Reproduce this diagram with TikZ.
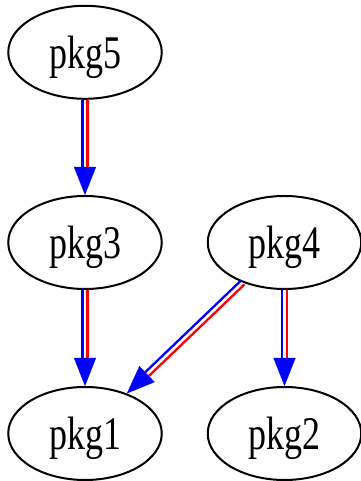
\documentclass[tikz,border=0pt]{standalone}
\usepackage{fontspec}
\setmainfont{Liberation Serif}
\usetikzlibrary{shapes.geometric,arrows.meta,calc}
\tikzset{
  pkgnode/.style={draw=black, line width=2pt, ellipse, inner sep=0pt,
    minimum width=153.5pt, minimum height=93pt, text depth=0pt,
    font=\fontsize{36}{40}\selectfont},
  edgeline/.style={line width=2.3pt},
  tipline/.style={blue, line width=0.1pt, -{Triangle[length=28pt,width=22pt]}},
}
\newcommand\pkgtext[1]{\scalebox{1}[1.3]{#1}}
\newcommand\pkgedge[2]{%
  \path (#1) -- (#2) coordinate[pos=0] (s) coordinate[pos=1] (e);
  \coordinate (b) at ($(e)!28pt!(s)$);
  \draw[edgeline, blue] ($(s)!2.6pt!-90:(e)$) -- ($(b)!2.6pt!-90:(e)$);
  \draw[edgeline, red] ($(s)!2.6pt!90:(e)$) -- ($(b)!2.6pt!90:(e)$);
  \draw[tipline] (b) -- (e);
}
\begin{document}
\begin{tikzpicture}[x=1pt,y=1pt]
\useasboundingbox (0,0) rectangle (360,481);
\node[pkgnode] (p5) at (85,428.7) {\pkgtext{pkg5}};
\node[pkgnode] (p3) at (85,238.5) {\pkgtext{pkg3}};
\node[pkgnode] (p4) at (284.5,238.5) {\pkgtext{pkg4}};
\node[pkgnode] (p1) at (85,47.5) {\pkgtext{pkg1}};
\node[pkgnode] (p2) at (284.5,47.5) {\pkgtext{pkg2}};
\pkgedge{p5}{p3}
\pkgedge{p3}{p1}
\pkgedge{p4}{p1}
\pkgedge{p4}{p2}
\end{tikzpicture}
\end{document}
